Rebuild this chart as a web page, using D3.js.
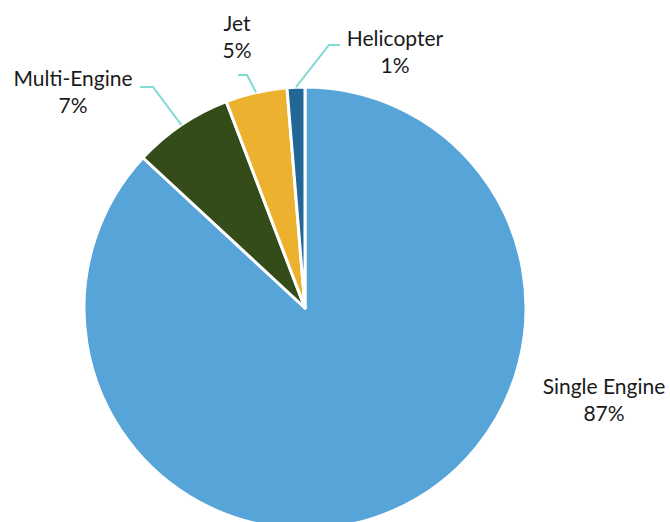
<!DOCTYPE html>
<html>
<head>
<meta charset="utf-8">
<script src="https://cdn.jsdelivr.net/npm/d3@7"></script>
<style>
	body{margin:0;background:#fff;}
	text{font-family:Lato, "Open Sans", sans-serif;fill:#1a1a1a;}
</style>
</head>
<body>
<svg id="chart" width="670" height="522"></svg>
<script>
// data
const categories = ["Single Engine", "Multi-Engine", "Jet", "Helicopter"];
const shares = [86.9, 7.3, 4.5, 1.3];
const pctLabels = ["87%", "7%", "5%", "1%"];
const colors = ["#57a4d9", "#334c1a", "#ecb22f", "#236796"];

// where each label sits, relative to the chart
const labelPos = [
	{x: 604, y: 394, elbow: null},
	{x: 73, y: 86, elbow: [[140, 87], [153, 87]]},
	{x: 237, y: 31, elbow: [[238, 75], [247, 75]]},
	{x: 395, y: 46, elbow: [[340, 45], [329, 45]]}
];

let svg = d3.select("#chart"),
	cx = 305,
	cy = 308,
	radius = 221;

let pie = d3.pie().sort(null).value(function(d){return d;}),
	arc = d3.arc().innerRadius(0).outerRadius(radius),
	arcs = pie(shares);

let g = svg.append("g").attr("transform", "translate(" + cx + "," + cy + ")");

g.selectAll("path.slice")
	.data(arcs)
	.enter().append("path")
	.attr("class", "slice")
	.attr("d", arc)
	.style("fill", function(d, i){return colors[i];})
	.style("stroke", "#fff")
	.style("stroke-width", 3)
	.style("stroke-linejoin", "round");

//leader lines go from the arc edge at mid-angle to the label elbow
arcs.forEach(function(d, i){
	let lp = labelPos[i];
	if(!lp.elbow) return;
	let mid = (d.startAngle + d.endAngle) / 2,
		px = cx + radius * Math.sin(mid),
		py = cy - radius * Math.cos(mid),
		pts = [lp.elbow[0], lp.elbow[1], [px, py]];
	svg.append("path")
		.attr("d", d3.line()(pts))
		.style("fill", "none")
		.style("stroke", "#7fdcd3")
		.style("stroke-width", 2);
});

let labels = svg.selectAll("g.label")
	.data(categories)
	.enter().append("g")
	.attr("class", "label");

labels.append("text")
	.attr("x", function(d, i){return labelPos[i].x;})
	.attr("y", function(d, i){return labelPos[i].y;})
	.attr("text-anchor", "middle")
	.attr("font-size", 21)
	.text(function(d){return d;});

labels.append("text")
	.attr("x", function(d, i){return labelPos[i].x;})
	.attr("y", function(d, i){return labelPos[i].y + 27;})
	.attr("text-anchor", "middle")
	.attr("font-size", 21)
	.text(function(d, i){return pctLabels[i];});
</script>
</body>
</html>
